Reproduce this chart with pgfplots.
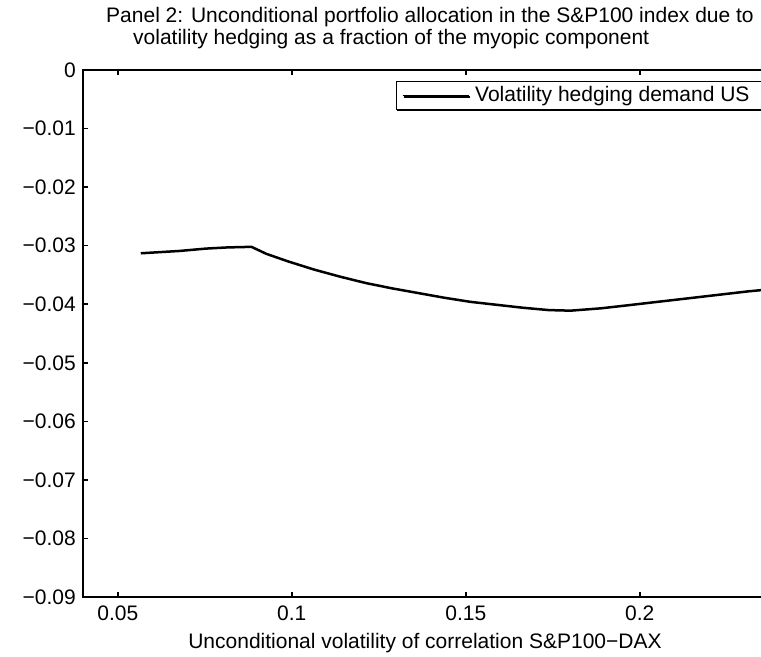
\documentclass[border=0pt]{standalone}
\usepackage{fontspec}
\setmainfont{Liberation Sans}
\usepackage{pgfplots}
\pgfplotsset{compat=1.18}
\usetikzlibrary{shadows}

\begin{document}
\fontsize{21bp}{25bp}\selectfont
\begin{tikzpicture}
\begin{axis}[
    scale only axis,
    width=696bp, height=527bp,
    xmin=0.04, xmax=0.24,
    ymin=-0.09, ymax=0,
    scaled x ticks=false, scaled y ticks=false,
    xtick={0.05,0.1,0.15,0.2},
    xticklabels={0.05,0.1,0.15,0.2},
    ytick={-0.09,-0.08,-0.07,-0.06,-0.05,-0.04,-0.03,-0.02,-0.01,0},
    yticklabels={−0.09,−0.08,−0.07,−0.06,−0.05,−0.04,−0.03,−0.02,−0.01,0},
    xticklabel style={inner sep=0pt, yshift=-9bp, anchor=north},
    yticklabel style={inner sep=0pt, xshift=-7bp, anchor=east},
    axis line style={line width=2.5bp},
    major tick length=5bp,
    tick style={line width=1.5bp, black},
    legend style={at={(rel axis cs:0.449,0.980)}, anchor=north west,
        draw=black, line width=1bp, fill=white,
        drop shadow={shadow xshift=1bp, shadow yshift=-2bp, opacity=1, fill=black},
        inner xsep=6bp, inner ysep=3bp, column sep=4bp},
    legend image code/.code={\draw[line width=1.2bp] (0bp,0bp) -- (66bp,0bp);},
]
\addplot[black, line width=2.5bp] coordinates {
    (0.0566,-0.0313) (0.0622,-0.0311) (0.0678,-0.0309) (0.0753,-0.0305)
    (0.0815,-0.0303) (0.0884,-0.0302) (0.0927,-0.0314) (0.0990,-0.0327)
    (0.1065,-0.0341) (0.1139,-0.0353) (0.1214,-0.0364) (0.1289,-0.0373)
    (0.1364,-0.0381) (0.1439,-0.0389) (0.1514,-0.0396) (0.1589,-0.0401)
    (0.1664,-0.0406) (0.1738,-0.0410) (0.1801,-0.0411) (0.1888,-0.0407)
    (0.1963,-0.0402) (0.2050,-0.0396) (0.2138,-0.0390) (0.2225,-0.0384)
    (0.2312,-0.0378) (0.2400,-0.0373)
};
\addlegendentry{Volatility hedging demand US\rule{14bp}{0pt}}
\coordinate (O) at (rel axis cs:0,0);
\end{axis}
% titles and x label, placed from the axis corner
\path (O) ++(347bp,574bp) node[anchor=base, inner sep=0pt]
    {Panel 2: Unconditional portfolio allocation in the S\&P100 index due to};
\path (O) ++(50bp,552bp) node[anchor=base west, inner sep=0pt]
    {volatility hedging as a fraction of the myopic component};
\path (O) ++(342bp,-51bp) node[anchor=base, inner sep=0pt]
    {Unconditional volatility of correlation S\&P100−DAX};
% crop to the reference frame (right side of the axis is cut off)
\pgfresetboundingbox
\path[use as bounding box] (O) ++(-83bp,-60bp) rectangle ++(761bp,657bp);
\end{tikzpicture}
\end{document}
